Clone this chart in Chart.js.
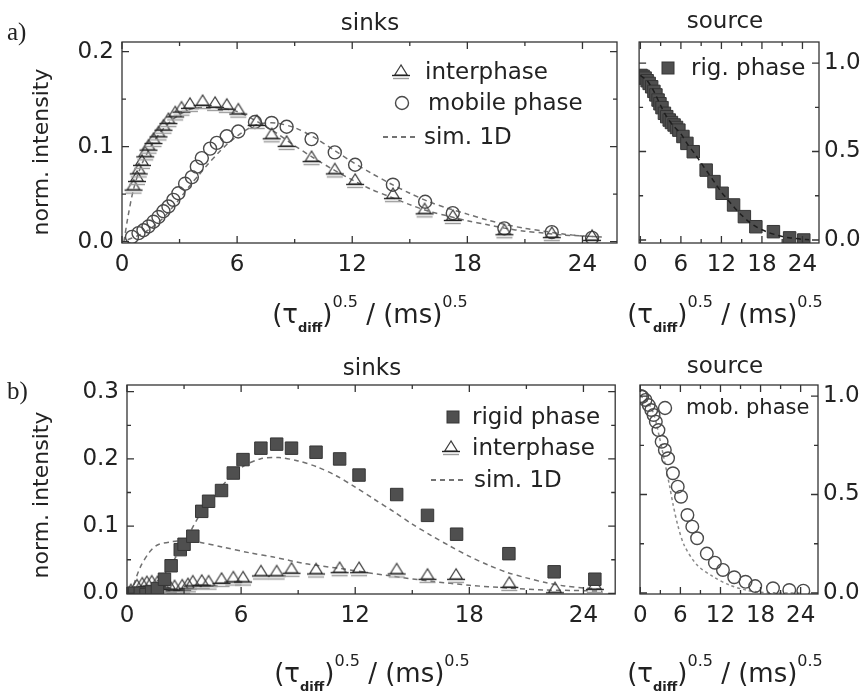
<!DOCTYPE html>
<html>
<head>
<meta charset="utf-8">
<script src="https://cdn.jsdelivr.net/npm/chart.js"></script>
<style>
  html, body { margin: 0; padding: 0; background: #fff; }
  body { width: 861px; height: 693px; position: relative; overflow: hidden; }
  canvas { position: absolute; }
</style>
</head>
<body>
<canvas id="a1" width="625" height="345" style="left:0;top:0"></canvas>
<canvas id="a2" width="236" height="345" style="left:625px;top:0"></canvas>
<canvas id="b1" width="625" height="348" style="left:0;top:345px"></canvas>
<canvas id="b2" width="236" height="348" style="left:625px;top:345px"></canvas>
<script>
// ---- panel a) sinks ----
const aInterX = [0.6, 0.78, 0.87, 1.04, 1.21, 1.38, 1.64, 1.9, 2.16, 2.42, 2.77, 3.1, 3.54, 4.2, 4.85, 5.46, 6.06, 7.02, 7.8, 8.58, 9.88, 11.09, 12.15, 14.12, 15.77, 17.24, 19.93, 22.4, 24.5];
const aInterY = [0.058, 0.067, 0.075, 0.084, 0.093, 0.100, 0.107, 0.114, 0.121, 0.128, 0.135, 0.140, 0.144, 0.147, 0.145, 0.143, 0.138, 0.126, 0.112, 0.104, 0.088, 0.075, 0.064, 0.049, 0.033, 0.026, 0.011, 0.008, 0.005];
const aMobX = [0.52, 0.86, 1.12, 1.38, 1.64, 1.9, 2.16, 2.42, 2.68, 2.94, 3.29, 3.64, 3.9, 4.16, 4.59, 4.94, 5.46, 6.06, 6.93, 7.8, 8.58, 9.88, 11.09, 12.15, 14.12, 15.8, 17.24, 19.93, 22.4, 24.5];
const aMobY = [0.005, 0.009, 0.012, 0.016, 0.021, 0.026, 0.032, 0.037, 0.044, 0.051, 0.061, 0.068, 0.079, 0.088, 0.098, 0.104, 0.111, 0.116, 0.126, 0.125, 0.121, 0.108, 0.094, 0.081, 0.060, 0.042, 0.030, 0.014, 0.010, 0.004];
const aSimIX = [0.1, 0.3, 0.6, 1, 1.5, 2, 2.5, 3, 3.5, 4, 5, 6, 7, 8, 9, 10, 11, 12, 13, 14, 15, 16, 17, 18, 19, 20, 21, 22, 23, 24, 25];
const aSimIY = [0, 0.025, 0.055, 0.08, 0.1, 0.115, 0.126, 0.134, 0.139, 0.141, 0.141, 0.137, 0.127, 0.115, 0.101, 0.088, 0.076, 0.065, 0.055, 0.047, 0.039, 0.032, 0.027, 0.022, 0.018, 0.014, 0.011, 0.009, 0.007, 0.006, 0.005];
const aSimMX = [0.3, 1, 1.5, 2, 2.5, 3, 3.5, 4, 4.5, 5, 5.5, 6, 6.5, 7, 7.5, 8, 9, 10, 11, 12, 13, 14, 15, 16, 17, 18, 19, 20, 21, 22, 23, 24, 25];
const aSimMY = [0.002, 0.008, 0.014, 0.022, 0.033, 0.045, 0.058, 0.07, 0.082, 0.093, 0.103, 0.111, 0.118, 0.123, 0.125, 0.125, 0.12, 0.11, 0.097, 0.084, 0.072, 0.061, 0.051, 0.042, 0.035, 0.029, 0.023, 0.018, 0.014, 0.011, 0.008, 0.006, 0.005];

// ---- panel a) source ----
const aRigX = [0.1, 0.4, 0.7, 1.0, 1.3, 1.67, 2.0, 2.3, 2.62, 2.9, 3.2, 3.56, 3.9, 4.27, 4.6, 4.99, 5.35, 5.7, 6.3, 6.89, 7.83, 9.74, 10.9, 12.1, 13.8, 15.4, 17.1, 19.7, 22.1, 24.2];
const aRigY = [0.93, 0.925, 0.915, 0.9, 0.885, 0.866, 0.84, 0.82, 0.791, 0.77, 0.748, 0.716, 0.697, 0.678, 0.664, 0.65, 0.636, 0.621, 0.585, 0.546, 0.499, 0.395, 0.33, 0.264, 0.198, 0.132, 0.075, 0.047, 0.012, 0.0];
const aSimRX = [0, 1, 2, 3, 4, 5, 6, 7, 8, 9, 10, 11, 12, 13, 14, 15, 16, 17, 18, 19, 20, 21, 22, 23, 24, 25];
const aSimRY = [0.93, 0.9, 0.84, 0.76, 0.69, 0.64, 0.6, 0.54, 0.49, 0.435, 0.38, 0.325, 0.27, 0.225, 0.18, 0.14, 0.105, 0.078, 0.058, 0.042, 0.03, 0.02, 0.013, 0.008, 0.004, 0.002];

// ---- panel b) sinks ----
const bRigX = [0.1, 0.4, 0.7, 1.0, 1.3, 1.6, 1.97, 2.32, 2.8, 3.0, 3.46, 3.93, 4.29, 4.97, 5.59, 6.1, 7.04, 7.87, 8.65, 9.94, 11.18, 12.2, 14.18, 15.8, 17.33, 20.08, 22.46, 24.6];
const bRigY = [0.0, 0.0, 0.0, -0.002, 0.002, 0.007, 0.021, 0.041, 0.065, 0.073, 0.085, 0.122, 0.137, 0.153, 0.179, 0.199, 0.216, 0.222, 0.216, 0.210, 0.200, 0.176, 0.147, 0.116, 0.088, 0.059, 0.032, 0.021];
const bIntX = [0.2, 0.52, 0.8, 1.04, 1.3, 1.6, 1.86, 2.2, 2.5, 2.9, 3.2, 3.46, 3.93, 4.29, 4.97, 5.59, 6.1, 7.04, 7.87, 8.65, 9.94, 11.18, 12.2, 14.18, 15.8, 17.3, 20.1, 22.5, 24.6];
const bIntY = [0.003, 0.01, 0.013, 0.015, 0.016, 0.015, 0.013, 0.011, 0.009, 0.01, 0.012, 0.016, 0.017, 0.016, 0.02, 0.022, 0.022, 0.031, 0.031, 0.035, 0.034, 0.036, 0.036, 0.034, 0.026, 0.026, 0.014, 0.006, 0.011];
const bSimRX = [0.3, 1, 2, 3, 4, 5, 6, 7, 8, 9, 10, 11, 12, 13, 14, 15, 16, 17, 18, 19, 20, 21, 22, 23, 24, 25];
const bSimRY = [0, 0.006, 0.03, 0.075, 0.125, 0.16, 0.187, 0.2, 0.202, 0.197, 0.188, 0.175, 0.158, 0.14, 0.122, 0.103, 0.086, 0.07, 0.055, 0.042, 0.031, 0.023, 0.016, 0.011, 0.008, 0.006];
const bSimIX = [0.2, 0.7, 1.2, 1.6, 2.4, 3.0, 3.8, 5, 6.5, 7.7, 9.4, 11.2, 13.8, 16, 18, 20, 22, 24, 25];
const bSimIY = [0, 0.039, 0.062, 0.072, 0.077, 0.078, 0.076, 0.069, 0.06, 0.054, 0.044, 0.037, 0.026, 0.018, 0.012, 0.008, 0.005, 0.004, 0.003];

// ---- panel b) source ----
const bMobX = [0.1, 0.29, 0.77, 1.26, 1.64, 1.98, 2.32, 2.71, 3.19, 3.67, 4.15, 4.88, 5.6, 6.09, 7.05, 7.78, 8.5, 9.95, 11.16, 12.37, 14.06, 15.75, 17.2, 19.86, 22.3, 24.4];
const bMobY = [1.0, 0.996, 0.98, 0.954, 0.929, 0.904, 0.87, 0.827, 0.768, 0.726, 0.684, 0.608, 0.54, 0.489, 0.396, 0.337, 0.278, 0.2, 0.154, 0.117, 0.08, 0.057, 0.035, 0.024, 0.015, 0.012];
const bSimMX = [0, 1, 2, 2.8, 3.5, 4.4, 4.9, 5.6, 6.6, 8.5, 10.9, 13.3, 15.8, 18, 20, 22, 24];
const bSimMY = [1.0, 0.975, 0.91, 0.8, 0.69, 0.54, 0.45, 0.345, 0.24, 0.142, 0.083, 0.041, 0.015, 0.004, 0.001, 0, 0];

// tick values
const xMajor = [0, 6, 12, 18, 24];
const xMinor = [3, 9, 15, 21];
const aSinkYMajor = [0, 0.1, 0.2];
const aSinkYMinor = [0.05, 0.15];
const bSinkYMajor = [0, 0.1, 0.2, 0.3];
const bSinkYMinor = [0.05, 0.15, 0.25];
const srcYMajor = [0, 0.5, 1.0];
const srcYMinor = [0.25, 0.75];

Chart.defaults.font.family = "'DejaVu Sans', sans-serif";
Chart.defaults.color = '#222';

const pts = (xs, ys) => xs.map((x, i) => ({ x: x, y: ys[i] }));

// triangle with the horizontal bars under it
function triMarker() {
  const c = document.createElement('canvas');
  c.width = 20; c.height = 20;
  const g = c.getContext('2d');
  g.strokeStyle = '#3c3c3c'; g.lineWidth = 1.2;
  g.beginPath(); g.moveTo(10, 3); g.lineTo(3.8, 13); g.lineTo(16.2, 13); g.closePath(); g.stroke();
  g.strokeStyle = '#222'; g.lineWidth = 1.4;
  g.beginPath(); g.moveTo(1, 13.5); g.lineTo(19, 13.5); g.stroke();
  g.strokeStyle = '#9a9a9a'; g.lineWidth = 1.4;
  g.beginPath(); g.moveTo(2, 16.5); g.lineTo(18, 16.5); g.stroke();
  return c;
}
const tri = triMarker();

const squareDs = (data, r) => ({ data: data, pointStyle: 'rect', pointRadius: r, pointBackgroundColor: '#4f4f4f', pointBorderColor: '#363636', pointBorderWidth: 1, showLine: false });
const circleDs = (data, r) => ({ data: data, pointStyle: 'circle', pointRadius: r, pointBackgroundColor: 'rgba(255,255,255,0)', pointBorderColor: '#4a4a4a', pointBorderWidth: 1.4, showLine: false });
const triDs = (data) => ({ data: data, pointStyle: tri, pointRadius: 7, showLine: false });
const simDs = (data, color, order, dash) => ({ data: data, showLine: true, pointRadius: 0, borderColor: color, borderWidth: 1.5, borderDash: dash || [5, 4], tension: 0.3, fill: false, order: order });

function drawMarker(ctx, kind, x, y) {
  ctx.save();
  if (kind === 'rect') {
    ctx.fillStyle = '#4f4f4f'; ctx.strokeStyle = '#363636'; ctx.lineWidth = 1;
    ctx.fillRect(x - 6, y - 6, 12, 12); ctx.strokeRect(x - 6, y - 6, 12, 12);
  } else if (kind === 'circle') {
    ctx.strokeStyle = '#4a4a4a'; ctx.lineWidth = 1.4;
    ctx.beginPath(); ctx.arc(x, y, 6.5, 0, Math.PI * 2); ctx.stroke();
  } else if (kind === 'tri') {
    ctx.drawImage(tri, x - 10, y - 10);
  } else if (kind === 'dash') {
    ctx.strokeStyle = '#444'; ctx.lineWidth = 1.5; ctx.setLineDash([5, 4]);
    ctx.beginPath(); ctx.moveTo(x - 17, y); ctx.lineTo(x + 17, y); ctx.stroke();
  }
  ctx.restore();
}

function drawTauTitle(ctx, cx, base) {
  const parts = [
    ['(τ', 'normal 26px', 0], ['diff', 'bold 13px', 9], [')', 'normal 26px', 0],
    ['0.5', 'normal 16px', -16], [' / (ms)', 'normal 26px', 0], ['0.5', 'normal 16px', -16]
  ];
  const fam = " 'DejaVu Sans', sans-serif";
  let total = 0;
  parts.forEach(p => { ctx.font = p[1] + fam; p.w = ctx.measureText(p[0]).width; total += p.w; });
  let x = cx - total / 2;
  ctx.textAlign = 'left'; ctx.textBaseline = 'alphabetic';
  parts.forEach(p => { ctx.font = p[1] + fam; ctx.fillText(p[0], x, base + p[2]); x += p.w; });
}

// decorations per canvas, page coordinates
const deco = {
  a1: { ox: 0, oy: 0, yMajor: aSinkYMajor, yMinor: aSinkYMinor,
    texts: [['sinks', 370, 30, 23], ['norm. intensity', 42, 152, 22, -90], ['a)', 7, 40, 25, 0, 'serif']],
    tau: [370, 323],
    legend: [['tri', 401, 72, 'interphase', 425, 23], ['circle', 402, 103, 'mobile phase', 428, 23], ['dash', 400, 137, 'sim. 1D', 424, 23]] },
  a2: { ox: 625, oy: 0, yMajor: srcYMajor, yMinor: srcYMinor,
    texts: [['source', 725, 28, 23]],
    tau: [725, 323],
    legend: [['rect', 668, 68, 'rig. phase', 691, 23]] },
  b1: { ox: 0, oy: 345, yMajor: bSinkYMajor, yMinor: bSinkYMinor,
    texts: [['sinks', 372, 375, 23], ['norm. intensity', 42, 495, 22, -90], ['b)', 7, 399, 25, 0, 'serif']],
    tau: [372, 682],
    legend: [['rect', 453, 417, 'rigid phase', 472, 23], ['tri', 451, 448, 'interphase', 472, 23], ['dash', 448, 480, 'sim. 1D', 474, 23]] },
  b2: { ox: 625, oy: 345, yMajor: srcYMajor, yMinor: srcYMinor,
    texts: [['source', 725, 373, 23]],
    tau: [725, 682],
    legend: [['circle', 665, 408, 'mob. phase', 686, 21]] }
};

const decoPlugin = {
  id: 'deco',
  afterDatasetsDraw(chart) {
    const d = deco[chart.canvas.id];
    const ctx = chart.ctx, a = chart.chartArea, sx = chart.scales.x, sy = chart.scales.y;
    ctx.save();
    ctx.strokeStyle = '#333'; ctx.lineWidth = 1.3;
    ctx.strokeRect(a.left, a.top, a.right - a.left, a.bottom - a.top);
    ctx.beginPath();
    const xt = (v, len) => { const p = sx.getPixelForValue(v); ctx.moveTo(p, a.bottom); ctx.lineTo(p, a.bottom - len); ctx.moveTo(p, a.top); ctx.lineTo(p, a.top + len); };
    const yt = (v, len) => { const p = sy.getPixelForValue(v); ctx.moveTo(a.left, p); ctx.lineTo(a.left + len, p); ctx.moveTo(a.right, p); ctx.lineTo(a.right - len, p); };
    xMajor.forEach(v => xt(v, 7)); xMinor.forEach(v => xt(v, 4));
    d.yMajor.forEach(v => yt(v, 7)); d.yMinor.forEach(v => yt(v, 4));
    ctx.stroke();
    ctx.restore();
  },
  afterDraw(chart) {
    const d = deco[chart.canvas.id];
    const ctx = chart.ctx;
    ctx.save();
    ctx.translate(-d.ox, -d.oy);
    ctx.fillStyle = '#222';
    d.texts.forEach(t => {
      ctx.save();
      ctx.font = t[3] + 'px ' + (t[5] === 'serif' ? "'Liberation Serif', serif" : "'DejaVu Sans', sans-serif");
      ctx.textAlign = t[5] === 'serif' ? 'left' : 'center';
      ctx.textBaseline = t[4] ? 'middle' : 'alphabetic';
      ctx.translate(t[1], t[2]);
      if (t[4]) ctx.rotate(t[4] * Math.PI / 180);
      ctx.fillText(t[0], 0, 0);
      ctx.restore();
    });
    drawTauTitle(ctx, d.tau[0], d.tau[1]);
    d.legend.forEach(l => {
      drawMarker(ctx, l[0], l[1], l[2]);
      ctx.font = l[5] + "px 'DejaVu Sans', sans-serif";
      ctx.textAlign = 'left'; ctx.textBaseline = 'middle';
      ctx.fillText(l[3], l[4], l[2] + 1);
    });
    ctx.restore();
  }
};

function panel(id, c) {
  new Chart(document.getElementById(id), {
    type: 'scatter',
    data: { datasets: c.datasets },
    options: {
      responsive: false,
      animation: false,
      devicePixelRatio: 1,
      layout: { padding: c.padding },
      plugins: { legend: { display: false }, tooltip: { enabled: false } },
      scales: {
        x: {
          type: 'linear', position: 'bottom', min: c.xMin, max: c.xMax,
          afterFit: s => { s.height = c.xh; },
          grid: { display: false, drawTicks: false }, border: { display: false },
          ticks: { stepSize: 6, includeBounds: false, padding: 8, font: { size: 23 }, color: '#222', maxRotation: 0 }
        },
        y: {
          type: 'linear', position: c.yPos, min: c.yMin, max: c.yMax,
          afterFit: s => { s.width = c.yw; },
          grid: { display: false, drawTicks: false }, border: { display: false },
          ticks: { stepSize: c.yStep, includeBounds: false, padding: c.yPad, font: { size: 23 }, color: '#222',
            callback: v => Number(v).toFixed(1) }
        }
      }
    },
    plugins: [decoPlugin]
  });
}

panel('a1', {
  padding: { left: 0, top: 42, right: 7, bottom: 0 }, xh: 102, yw: 122, yPos: 'left', yPad: 8,
  xMin: 0, xMax: 25.8, yMin: -0.0014, yMax: 0.2102, yStep: 0.1,
  datasets: [
    simDs(pts(aSimIX, aSimIY), '#707070', 3), simDs(pts(aSimMX, aSimMY), '#707070', 3),
    triDs(pts(aInterX, aInterY)), circleDs(pts(aMobX, aMobY), 6.5)
  ]
});

panel('a2', {
  padding: { left: 7, top: 42, right: 0, bottom: 0 }, xh: 102, yw: 42, yPos: 'right', yPad: 5,
  xMin: -0.19, xMax: 26.45, yMin: -0.017, yMax: 1.119, yStep: 0.5,
  datasets: [
    simDs(pts(aSimRX, aSimRY), '#1e1e1e', 0),
    squareDs(pts(aRigX, aRigY), 8.8)
  ]
});

panel('b1', {
  padding: { left: 0, top: 40, right: 8, bottom: 0 }, xh: 99, yw: 127, yPos: 'left', yPad: 8,
  xMin: 0, xMax: 25.67, yMin: -0.001, yMax: 0.31, yStep: 0.1,
  datasets: [
    simDs(pts(bSimRX, bSimRY), '#707070', 3), simDs(pts(bSimIX, bSimIY), '#707070', 3),
    squareDs(pts(bRigX, bRigY), 8.8), triDs(pts(bIntX, bIntY))
  ]
});

panel('b2', {
  padding: { left: 8, top: 40, right: 0, bottom: 0 }, xh: 99, yw: 43, yPos: 'right', yPad: 5,
  xMin: -0.05, xMax: 26.6, yMin: -0.005, yMax: 1.056, yStep: 0.5,
  datasets: [
    simDs(pts(bSimMX, bSimMY), '#8a8a8a', 3, [3, 3]),
    circleDs(pts(bMobX, bMobY), 6.3)
  ]
});
</script>
</body>
</html>
